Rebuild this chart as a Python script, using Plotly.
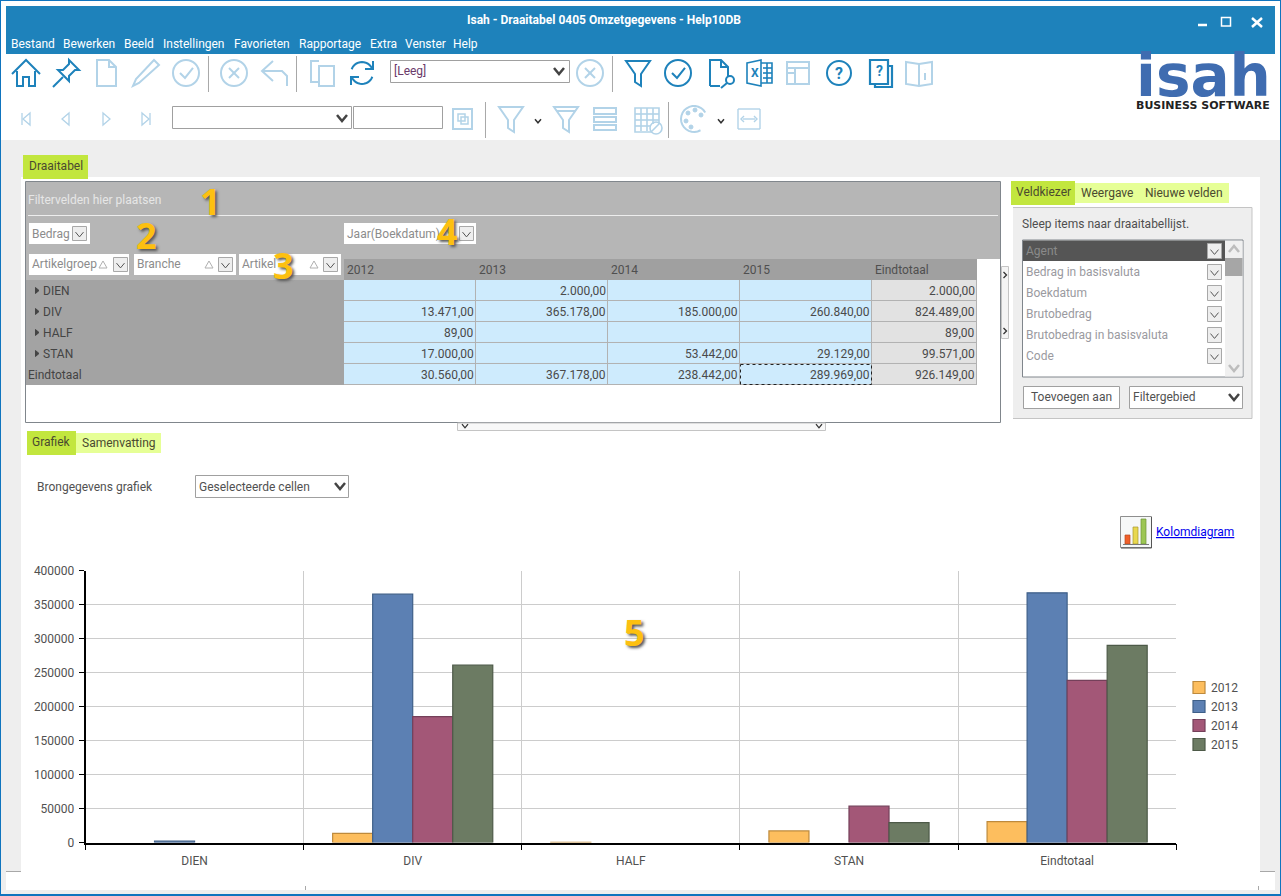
import math
import plotly.graph_objects as go

# ---------- data ----------
categories = ["DIEN", "DIV", "HALF", "STAN", "Eindtotaal"]
years = ["2012", "2013", "2014", "2015"]
v2012 = [None, 13471, 89, 17000, 30560]
v2013 = [2000, 365178, None, None, 367178]
v2014 = [None, 185000, None, 53442, 238442]
v2015 = [None, 260840, None, 29129, 289969]
row_totals = [2000, 824489, 89, 99571, 926149]
series_values = [v2012, v2013, v2014, v2015]
bar_fill = ["#FDBE5E", "#5C80B3", "#A35777", "#6C7B63"]
bar_edge = ["#BE8A3C", "#3E5F88", "#74405A", "#4D5A48"]
menu_items = ["Bestand", "Bewerken", "Beeld", "Instellingen", "Favorieten", "Rapportage", "Extra", "Venster", "Help"]
field_items = ["Bedrag in basisvaluta", "Boekdatum", "Brutobedrag", "Brutobedrag in basisvaluta", "Code"]

FONT = "Roboto"
TXT = "#515151"
ACT = "#1E82BB"
DIS = "#B2D3E8"
GREEN = "#C2E63E"
LIME = "#E6FF96"
GREY = "#EEEEEE"
W, H = 1281, 896

shapes, notes = [], []


def fx(x):
    return x / W


def fy(y):
    return 1 - y / H


def rect(x0, y0, x1, y1, fill=None, line=None, w=1, dash=None):
    shapes.append(dict(type="rect", xref="paper", yref="paper", x0=fx(x0), y0=fy(y0), x1=fx(x1), y1=fy(y1), layer="above",
                       fillcolor=fill or "rgba(0,0,0,0)",
                       line=dict(color=line or "rgba(0,0,0,0)", width=w if line else 0, dash=dash or "solid")))


def poly(points, color, w=2, close=False, fill=None):
    d = "M" + "L".join(f"{fx(x):.5f},{fy(y):.5f}" for x, y in points) + ("Z" if close else "")
    shapes.append(dict(type="path", xref="paper", yref="paper", path=d, layer="above",
                       fillcolor=fill or "rgba(0,0,0,0)",
                       line=dict(color=color, width=w)))


def circ(cx, cy, r, color, w=2, fill=None):
    shapes.append(dict(type="circle", xref="paper", yref="paper", x0=fx(cx - r), y0=fy(cy - r), x1=fx(cx + r), y1=fy(cy + r),
                       layer="above", fillcolor=fill or "rgba(0,0,0,0)", line=dict(color=color, width=w)))


def text(x, y, s, size=12, color=TXT, anchor="left", font=FONT, shadow=None):
    f = dict(family=font, size=size, color=color)
    if shadow:
        f["shadow"] = shadow
    notes.append(dict(xref="paper", yref="paper", x=fx(x), y=fy(y), text=s, showarrow=False, xanchor=anchor, yanchor="middle",
                      font=f, borderpad=0, borderwidth=0))


def ic(cx, cy, color, lines=(), closed=(), circles=(), w=2):
    for ln in lines:
        poly([(cx + a, cy + b) for a, b in ln], color, w)
    for ln in closed:
        poly([(cx + a, cy + b) for a, b in ln], color, w, close=True)
    for a, b, r in circles:
        circ(cx + a, cy + b, r, color, w)


def arc(r, a0, a1, n=14):
    return [(r * math.cos(math.radians(a0 + (a1 - a0) * i / n)), r * math.sin(math.radians(a0 + (a1 - a0) * i / n)))
            for i in range(n + 1)]


def chevron(cx, cy, color="#444444", s=4, w=2.5):
    poly([(cx - s, cy - s * .6), (cx, cy + s * .6), (cx + s, cy - s * .6)], color, w)


def combo(x0, y0, x1, y1, s=None, tcolor=TXT):
    rect(x0 + .5, y0 + .5, x1 - .5, y1 - .5, "#FFFFFF", "#A0A0A0", 1)
    if s:
        text(x0 + 4, (y0 + y1) / 2, s, 12, tcolor)


def field_btn(x0, y0, x1, label, tri=None, btn=None):
    rect(x0, y0, x1, y0 + 21, "#FFFFFF")
    text(x0 + 3, y0 + 10.5, label, 12, "#8C8C8C")
    if tri:
        poly([(tri - 4, y0 + 14), (tri, y0 + 7), (tri + 4, y0 + 14)], "#B0B0B0", 1, close=True)
    bx = btn if btn else x1 - 18
    rect(bx + .5, y0 + 3.5, bx + 14.5, y0 + 17.5, "#EEEEEE", "#A8A8A8", 1)
    chevron(bx + 7.5, y0 + 11.5, "#555555", 4, 1)


# ---------- window frame ----------
rect(1, 140, 21, 871, GREY)
rect(1260, 140, 1280, 871, GREY)
rect(21, 140, 1260, 177, GREY)
rect(1, 871, 6, 894, GREY)
rect(1275, 871, 1280, 894, GREY)
rect(1, 890, 1280, 894, GREY)
poly([(6, 871.5), (21, 871.5)], "#A8A8A8", 1)
poly([(1260, 871.5), (1275, 871.5)], "#A8A8A8", 1)
poly([(305.5, 886), (305.5, 890)], "#A8A8A8", 1)
poly([(1258.5, 886), (1258.5, 890)], "#A8A8A8", 1)
rect(6, 6, 1275, 54, ACT)
rect(0, 0, 1281, 1, "#0F74BE")
rect(0, 0, 1, 896, "#0F74BE")
rect(1280, 0, 1281, 896, "#0F74BE")
rect(0, 894, 1281, 896, "#0F74BE")

text(604, 20, "<b>Isah - Draaitabel 0405 Omzetgegevens - Help10DB</b>", 12, "#FFFFFF", "center")
menu_x = [11, 63, 124, 163, 234, 299, 370, 405, 453]
for mx, m in zip(menu_x, menu_items):
    text(mx, 44, m, 12, "#FFFFFF")
poly([(1198, 25), (1207, 25)], "#FFFFFF", 2.5)
rect(1221.5, 17.5, 1230.5, 26, None, "#FFFFFF", 1.5)
poly([(1252, 18), (1262, 27)], "#FFFFFF", 2.5)
poly([(1262, 18), (1252, 27)], "#FFFFFF", 2.5)

# ---------- toolbar row 1 ----------
Y1, Y2 = 73, 119
ic(26, Y1, ACT, [[(-14, 1), (0, -13), (14, 1)], [(-9, -2), (-9, 13), (-3, 13), (-3, 4), (3, 4), (3, 13), (9, 13), (9, -2)]])
ic(66, Y1, ACT, [[(-13, 14), (-3, 4)]], [[(3, -13), (13, -3), (9, -3), (3, 3), (3, 8), (-8, -3), (-3, -3), (3, -9)]])
DOC = [(-9, -13), (3, -13), (10, -6), (10, 13), (-9, 13)]
ic(106, Y1, DIS, [[(3, -13), (3, -6), (10, -6)]], [DOC])
ic(146, Y1, DIS, [], [[(8, -13), (13, -8), (-7, 10), (-13, 13), (-10, 6)]])
ic(186, Y1, DIS, [[(-6, 0), (-1, 5), (7, -5)]], circles=[(0, 0, 13)])
poly([(208.5, 56), (208.5, 92)], "#A8A8A8", 1)
X = [[(-5, -5), (5, 5)], [(5, -5), (-5, 5)]]
ic(234, Y1, DIS, X, circles=[(0, 0, 13)])
ic(274, Y1, DIS, [[(-1, -12), (-12, -2), (-1, 8)], [(-12, -2), (8, -2), (13, 3), (13, 13)]])
poly([(296.5, 56), (296.5, 92)], "#A8A8A8", 1)
ic(322, Y1, DIS, [[(-3, -12), (-11, -12), (-11, 9), (-3, 9)]], [[(-3, -7), (12, -7), (12, 13), (-3, 13)]])
ic(362, Y1, ACT, [arc(11, 200, 340), arc(11, 20, 160), [(11, -12), (11, -4), (3, -4)], [(-11, 12), (-11, 4), (-3, 4)]])
combo(390, 60, 570, 83)
text(394, 71.5, "[Leeg]", 12, "#6A3A6A")
chevron(559, 71, "#444444", 5, 2.5)
ic(590, Y1, DIS, X, circles=[(0, 0, 13)])
poly([(612.5, 56), (612.5, 92)], "#A8A8A8", 1)
FILT = [(-12, -12), (12, -12), (3, 1), (3, 13), (-3, 9), (-3, 1)]
ic(638, Y1, ACT, [], [FILT])
ic(678, Y1, ACT, [[(-6, 0), (-1, 5), (7, -5)]], circles=[(0, 0, 13)])
ic(719, Y1, ACT, [[(-9, 13), (-9, -13), (2, -13), (9, -6), (9, 3)], [(2, -13), (2, -6), (9, -6)], [(-9, 13), (1, 13)], [(8, 10), (2, 15)]],
   circles=[(11, 7, 4)])
ic(759, Y1, ACT, [[(2, -10), (13, -10), (13, 10), (2, 10)], [(4, -5), (13, -5)], [(4, 0), (13, 0)], [(4, 5), (13, 5)], [(8, -10), (8, 10)]],
   [[(-12, -10), (2, -13), (2, 13), (-12, 10)]], w=1.6)
text(-4.5 + 759, 73, "<b>X</b>", 12, ACT, "center")
ic(798, Y1, DIS, [[(-11, -5), (11, -5)], [(-3, -5), (-3, 11)], [(-11, 0), (-3, 0)]], [[(-11, -11), (11, -11), (11, 11), (-11, 11)]])
ic(839, Y1, ACT, [], circles=[(0, 0, 12)])
text(839, 73, "<b>?</b>", 16, ACT, "center")
ic(879, Y1, ACT, [[(9, -7), (13, -7), (13, 14), (-4, 14), (-4, 11)]], [[(-9, -13), (9, -13), (9, 11), (-9, 11)]], w=2.2)
text(879, 71, "<b>?</b>", 14, ACT, "center")
ic(919, Y1, DIS, [[(0, -9), (0, 13)], [(6, -3), (6, -3.1)], [(6, 0), (6, 7)]],
   [[(-13, -11), (0, -9), (13, -11), (13, 11), (0, 13), (-13, 11)]])

# logo
text(1203, 76, "<b>isah</b>", 58, "#3F6CB0", "center", "DejaVu Sans")
text(1203, 105, "<b>BUSINESS SOFTWARE</b>", 11, "#222222", "center", "DejaVu Sans")

# ---------- toolbar row 2 ----------
ic(26, Y2, DIS, [[(-4, -6), (-4, 6)]], [[(4, -6), (-3, 0), (4, 6)]], w=1.3)
ic(66, Y2, DIS, [], [[(3, -6), (-4, 0), (3, 6)]], w=1.3)
ic(106, Y2, DIS, [], [[(-3, -6), (4, 0), (-3, 6)]], w=1.3)
ic(146, Y2, DIS, [[(4, -6), (4, 6)]], [[(-4, -6), (3, 0), (-4, 6)]], w=1.3)
combo(172, 106, 352, 129)
chevron(342, 118, "#444444", 5, 2.5)
combo(353, 106, 443, 129)
rect(453, 109, 472, 129, None, DIS, 2)
rect(458, 114, 465, 121, None, DIS, 1.5)
rect(461, 117, 468, 124, None, DIS, 1.5)
poly([(485.5, 102), (485.5, 138)], "#A8A8A8", 1)
ic(511, Y2, DIS, [], [FILT])
chevron(538, 121, "#333333", 3, 1.5)
ic(566, Y2, DIS, [[(-9, -8), (9, -8)]], [FILT])
ic(605, Y2, DIS, [], [[(-11, -11), (11, -11), (11, -5), (-11, -5)], [(-11, -2), (11, -2), (11, 3), (-11, 3)], [(-11, 6), (11, 6), (11, 11), (-11, 11)]])
ic(647, Y2, DIS, [[(-12, -5), (12, -5)], [(-12, 1), (12, 1)], [(-12, 7), (4, 7)], [(-6, -11), (-6, 12)], [(0, -11), (0, 12)], [(6, -11), (6, 5)]],
   [[(-12, -11), (12, -11), (12, 5), (4, 13), (-12, 13)]], circles=[(9, 9, 6)], w=1.6)
poly([(668.5, 102), (668.5, 138)], "#A8A8A8", 1)
ic(694, Y2, DIS, [arc(13, 60, 330, 20)], w=2)
for a, b in [(-6, -6), (1, -9), (7, -4), (-8, 2), (-3, 8)]:
    circ(694 + a, Y2 + b, 2, DIS, 1, DIS)
chevron(721, 121, "#333333", 3, 1.5)
ic(749, Y2, DIS, [[(-11, -10), (-11, 10)], [(11, -10), (11, 10)], [(-6, 0), (6, 0)], [(-5, -3), (-8, 0), (-5, 3)], [(5, -3), (8, 0), (5, 3)],
                  [(-11, -10), (11, -10)], [(-11, 10), (11, 10)]], w=1.4)

# ---------- pivot table ----------
rect(23, 155, 88, 179, GREEN)
text(55.5, 166, "Draaitabel", 12, "#4A4A30", "center")
rect(25.5, 181.5, 1000.5, 422.5, "#FFFFFF", "#80868C", 1)
rect(26, 182, 1000, 259, "#B6B6B6")
rect(26, 259, 344, 280, "#B6B6B6")
poly([(28, 215.5), (998, 215.5)], "#EEEEEE", 1)
text(28, 200, "Filtervelden hier plaatsen", 12, "#E6E6E6")
rect(26, 280, 344, 385, "#A3A3A3")
rect(344, 259, 977, 280, "#A0A0A0")

col_x = [344, 476, 608, 740, 872, 977]
row_y = [280, 301, 322, 343, 364, 385]
for i in range(4):
    text(col_x[i] + 3, 269.5, years[i], 12, "#4F4F4F")
text(col_x[4] + 3, 269.5, "Eindtotaal", 12, "#4F4F4F")
rect(344, 280, 872, 385, "#CEEBFD")
rect(872, 280, 977, 385, "#E2E2E2")
for y in row_y[1:]:
    poly([(344, y - .5), (977, y - .5)], "#B2B2B2", 1)
for x in col_x[1:]:
    poly([(x - .5, 280), (x - .5, 385)], "#B2B2B2", 1)


def nl(v):
    return f"{v:,.2f}".replace(",", "#").replace(".", ",").replace("#", ".")


for r, cat in enumerate(categories):
    yc = (row_y[r] + row_y[r + 1]) / 2
    if r < 4:
        poly([(35.5, yc - 3), (39, yc), (35.5, yc + 3)], "#444444", 1, close=True, fill="#444444")
        text(43, yc, cat, 12, "#444444")
    else:
        text(28, yc, cat, 12, "#444444")
    for c, s in enumerate(series_values):
        if s[r] is not None:
            text(col_x[c + 1] - 2, yc, nl(s[r]), 12, "#4A4A4A", "right")
    text(col_x[5] - 2, yc, nl(row_totals[r]), 12, "#4A4A4A", "right")
rect(740.5, 364.5, 871.5, 384.5, None, "#222222", 1, "dot")

field_btn(29, 223, 90, "Bedrag", None, 72)
field_btn(344, 223, 476, "Jaar(Boekdatum)", 447, 459)
field_btn(29, 254, 129, "Artikelgroep", 103, 113)
field_btn(134, 254, 236, "Branche", 209, 218)
field_btn(239, 254, 341, "Artikel", 314, 323)

# splitters
rect(1001.5, 266.5, 1008.5, 338.5, "#F4F4F4", "#C4C4C4", 1)
for yy in (275, 331):
    poly([(1003.5, yy - 3), (1006.5, yy), (1003.5, yy + 3)], "#333333", 1.3)
rect(457.5, 423, 825.5, 430.5, "#F8F8F8", "#C4C4C4", 1)
chevron(465, 426, "#333333", 3, 1.3)
chevron(819, 426, "#333333", 3, 1.3)

# ---------- field chooser ----------
rect(1013, 207, 1252, 418, GREY)
poly([(1013, 207.5), (1252, 207.5), (1252, 418.5), (1013, 418.5)], "#C4C4C4", 1)
rect(1075, 183, 1229, 203, LIME)
rect(1011, 181, 1075, 205, GREEN)
text(1043, 192, "Veldkiezer", 12, "#4A4A30", "center")
text(1107, 193, "Weergave", 12, "#4A4A30", "center")
text(1184, 193, "Nieuwe velden", 12, "#4A4A30", "center")
text(1022, 224, "Sleep items naar draaitabellijst.", 12, "#4F4F4F")
rect(1022.5, 240, 1243, 377, "#FFFFFF", "#80868C", 1)
rect(1023, 240.5, 1225, 261, "#555555")
text(1026, 251, "Agent", 12, "#8A8A8A")
rect(1225, 241, 1242.5, 376.5, "#F0F0F0")
rect(1225, 258, 1242.5, 276, "#A6A6A6")
poly([(1229, 252), (1234, 246), (1239, 252)], "#BDBDBD", 2.5)
poly([(1229, 365), (1234, 371), (1239, 365)], "#BDBDBD", 2.5)
for i, name in enumerate(["Agent"] + field_items):
    yc = 251 + 21 * i
    if i:
        text(1026, yc, name, 12, "#9A9AA0")
    rect(1207.5, yc - 7.5, 1221.5, yc + 7.5, "#EEEEEE", "#A8A8A8", 1)
    chevron(1214.5, yc + 1, "#555555", 4, 1)
rect(1023.5, 386.5, 1119.5, 408.5, "#FFFFFF", "#A0A0A0", 1)
text(1071.5, 397.5, "Toevoegen aan", 12, TXT, "center")
combo(1129, 386, 1243, 409, "Filtergebied")
chevron(1234, 397, "#444444", 5, 2.5)

# ---------- chart header ----------
rect(76, 433, 161, 453, LIME)
rect(27, 431, 76, 455, GREEN)
text(51.5, 442, "Grafiek", 12, "#4A4A30", "center")
text(118.5, 443, "Samenvatting", 12, "#4A4A30", "center")
text(37, 487, "Brongegevens grafiek", 12, TXT)
combo(195, 475, 349, 498, "Geselecteerde cellen")
chevron(340, 486, "#444444", 5, 2.5)

rect(1120.5, 516.5, 1151.5, 547.5, "#F6F8F8", "#8E8E8E", 1)
poly([(1151.5, 517), (1151.5, 548), (1121, 548)], "#555555", 1)
rect(1125, 535, 1130, 544, "#F0602A", "#B84A1F", .7)
rect(1133, 527, 1138, 544, "#E8D84E", "#A89A30", .7)
rect(1141, 519, 1146, 544, "#9CC653", "#6F9438", .7)
poly([(1123, 544.5), (1149, 544.5)], "#777777", 1)
text(1156, 532, "<u>Kolomdiagram</u>", 12, "#0000EE")

# ---------- numbered callouts ----------
CAL = "#FDC010"
for n, cx, cy in [("1", 211, 201), ("2", 146, 235), ("3", 283, 265), ("4", 447, 232), ("5", 634, 632)]:
    text(cx, cy, f"<b>{n}</b>", 36, CAL, "center", "Open Sans", "2px 2px 3px #555555")

# ---------- chart ----------
fig = go.Figure()
for name, vals, fc, ec in zip(years, series_values, bar_fill, bar_edge):
    fig.add_bar(name=name, x=categories, y=vals, marker=dict(color=fc, line=dict(color=ec, width=1.2)))

fig.update_layout(
    width=W, height=H, margin=dict(l=0, r=0, t=0, b=0, pad=0, autoexpand=False),
    paper_bgcolor="#FFFFFF", plot_bgcolor="rgba(0,0,0,0)",
    font=dict(family=FONT, size=12, color=TXT),
    barmode="group", bargap=0.266, bargroupgap=0,
    shapes=shapes, annotations=notes,
    legend=dict(x=1179 / W, xanchor="left", y=1 - 673 / H, yanchor="top",
                bgcolor="rgba(0,0,0,0)", font=dict(size=12, color=TXT), borderwidth=0, tracegroupgap=0),
    xaxis=dict(domain=[85.5 / W, 1176.2 / W], anchor="y", type="category", tickson="boundaries",
               showgrid=True, gridcolor="#CCCCCC", gridwidth=1, ticks="outside", ticklen=6, tickcolor="#000000",
               showline=True, linecolor="#000000", linewidth=1.5, ticklabelstandoff=6,
               tickfont=dict(size=12, color=TXT)),
    yaxis=dict(domain=[1 - 842.5 / H, 1 - 570.5 / H], anchor="x", range=[0, 400000], dtick=50000, tickformat="d",
               showgrid=True, gridcolor="#CCCCCC", gridwidth=1, ticks="outside", ticklen=5, tickcolor="#000000",
               showline=True, linecolor="#000000", linewidth=1.5, zeroline=False, ticklabelstandoff=2,
               tickfont=dict(size=12, color=TXT)),
)

post = """
document.body.style.margin='0';document.body.style.overflow='hidden';
document.querySelectorAll('.legendtext').forEach(function(t){t.setAttribute('x','32');});
"""
fig.write_html("out.html", config={"displayModeBar": False}, post_script=post)
